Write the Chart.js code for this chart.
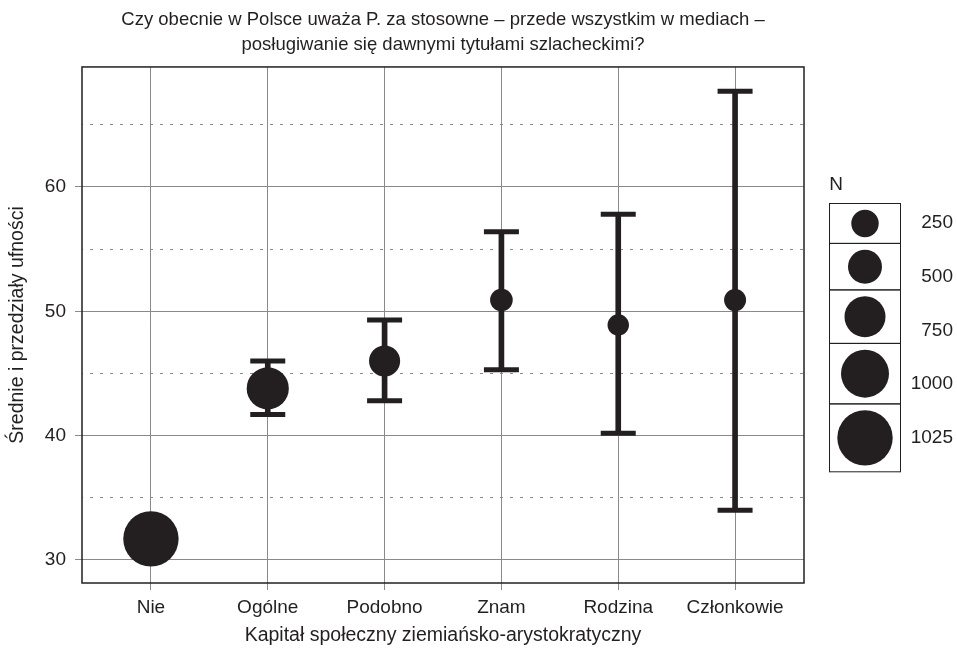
<!DOCTYPE html>
<html>
<head>
<meta charset="utf-8">
<script src="https://cdn.jsdelivr.net/npm/chart.js@4.4.1/dist/chart.umd.min.js"></script>
<style>
  html, body { margin: 0; padding: 0; background: #fff; }
  #wrap { width: 957px; height: 649px; }
</style>
</head>
<body>
<div id="wrap"><canvas id="ciChart" width="957" height="649"></canvas></div>
<script>
// --- dane ---
const KATEGORIE = ['Nie', 'Ogólne', 'Podobno', 'Znam', 'Rodzina', 'Członkowie'];
const SREDNIE   = [31.7, 43.8, 46.0, 50.9, 48.9, 50.9];
const CI_DOLNE  = [31.0, 41.7, 42.8, 45.3, 40.2, 34.0];
const CI_GORNE  = [32.4, 46.0, 49.3, 56.4, 57.8, 67.7];
const LICZEBNOSC = [1025, 790, 390, 70, 25, 45];
const Y_TICKS   = [30, 40, 50, 60];
const Y_KROPKI  = [35, 45, 55, 65];
const LEGENDA_N = [250, 500, 750, 1000, 1025];

const TYTUL = [
  'Czy obecnie w Polsce uważa P. za stosowne – przede wszystkim w mediach –',
  'posługiwanie się dawnymi tytułami szlacheckimi?'
];

const CZARNY = '#231f20';
const SZARY  = '#8a8a8a';
const FONT   = "'Liberation Sans', Arial, sans-serif";
const LEGENDA_R = [13.7, 17, 20.5, 24, 27.7];   // promienie kół w legendzie

function promien(n) {
  let i = 1;
  while (i < LEGENDA_N.length - 1 && n > LEGENDA_N[i]) i++;
  const n0 = LEGENDA_N[i - 1], n1 = LEGENDA_N[i];
  const r0 = LEGENDA_R[i - 1], r1 = LEGENDA_R[i];
  return r0 + (n - n0) * (r1 - r0) / (n1 - n0);
}

// ramka wykresu + legenda N
const ramkaPlugin = {
  id: 'ramka',
  afterDraw(chart) {
    const { ctx, chartArea: a } = chart;
    ctx.save();
    ctx.strokeStyle = CZARNY;
    ctx.lineWidth = 1.5;
    ctx.strokeRect(a.left, a.top, a.right - a.left, a.bottom - a.top);

    // legenda
    ctx.font = '19px ' + FONT;
    ctx.fillStyle = CZARNY;
    ctx.textAlign = 'center';
    ctx.textBaseline = 'middle';
    ctx.fillText('N', 836, 185);

    const bx = 829, bw = 71;
    let y = 203;
    ctx.lineWidth = 1;
    LEGENDA_N.forEach((n, i) => {
      const r = promien(n);
      const h = 2 * r + 12.5;
      ctx.strokeStyle = CZARNY;
      ctx.strokeRect(bx + 0.5, y + 0.5, bw, h);
      ctx.beginPath();
      ctx.arc(bx + bw / 2 + 0.5, y + h / 2 + 0.5, r, 0, Math.PI * 2);
      ctx.fill();
      ctx.textAlign = 'right';
      ctx.fillText(String(n), 953, 223 + i * 53.75);
      y += h;
    });
    ctx.restore();
  }
};

const xy = (arr) => arr.map((v, i) => ({ x: i, y: v }));

new Chart(document.getElementById('ciChart'), {
  type: 'scatter',
  data: {
    datasets: [
      {
        type: 'bar',
        label: 'przedział',
        data: KATEGORIE.map((_, i) => ({ x: i, y: [CI_DOLNE[i], CI_GORNE[i]] })),
        backgroundColor: CZARNY,
        borderWidth: 0,
        barThickness: 5,
        order: 3,
      },
      {
        label: 'górne',
        data: xy(CI_GORNE),
        pointStyle: 'line',
        pointRadius: 17.5,
        pointBorderWidth: 5,
        borderColor: CZARNY,
        order: 2,
      },
      {
        label: 'dolne',
        data: xy(CI_DOLNE),
        pointStyle: 'line',
        pointRadius: 17.5,
        pointBorderWidth: 5,
        borderColor: CZARNY,
        order: 2,
      },
      {
        label: 'średnie',
        data: xy(SREDNIE),
        pointStyle: 'circle',
        pointRadius: c => promien(LICZEBNOSC[c.dataIndex]),
        pointBackgroundColor: CZARNY,
        pointBorderWidth: 0,
        order: 1,
      },
    ],
  },
  options: {
    responsive: false,
    animation: false,
    layout: { padding: { left: 0, right: 71, top: 0, bottom: 0 } },
    plugins: {
      legend: { display: false },
      tooltip: { enabled: false },
      title: {
        display: true,
        text: TYTUL,
        color: CZARNY,
        font: { family: FONT, size: 18.5, weight: 'normal', lineHeight: 1.35 },
        padding: { top: 7.5, bottom: 9.5 },
      },
    },
    scales: {
      x: {
        type: 'linear',
        min: -0.59, max: 5.59,
        offset: false,
        afterBuildTicks: s => { s.ticks = KATEGORIE.map((_, i) => ({ value: i })); },
        afterFit: s => { s.height = 66; },
        ticks: {
          callback: v => KATEGORIE[v],
          color: CZARNY,
          font: { family: FONT, size: 19 },
          padding: 6,
          maxRotation: 0,
        },
        grid: { color: SZARY, lineWidth: 1, tickLength: 7, tickColor: SZARY, offset: false },
        border: { display: false },
        title: {
          display: true,
          text: 'Kapitał społeczny ziemiańsko-arystokratyczny',
          color: CZARNY,
          font: { family: FONT, size: 19.5 },
          padding: { top: 0, bottom: 1.3 },
        },
      },
      y: {
        min: 28.15, max: 69.65,
        afterBuildTicks: s => { s.ticks = Y_TICKS.map(v => ({ value: v })); },
        afterFit: s => { s.width = 82; },
        ticks: { color: CZARNY, font: { family: FONT, size: 19 }, padding: 9 },
        grid: { color: SZARY, lineWidth: 1, tickLength: 7, tickColor: SZARY },
        border: { display: false },
        title: {
          display: true,
          text: 'Średnie i przedziały ufności',
          color: CZARNY,
          font: { family: FONT, size: 19.5 },
          padding: { top: 6.3, bottom: 0 },
        },
      },
      y2: {
        position: 'right',
        min: 28.15, max: 69.65,
        afterBuildTicks: s => { s.ticks = Y_KROPKI.map(v => ({ value: v })); },
        afterFit: s => { s.width = 82; },
        ticks: { display: false },
        grid: { color: SZARY, lineWidth: 1, drawTicks: false },
        border: { display: false, dash: [3, 7], dashOffset: -8 },
      },
    },
  },
  plugins: [ramkaPlugin],
});
</script>
</body>
</html>
